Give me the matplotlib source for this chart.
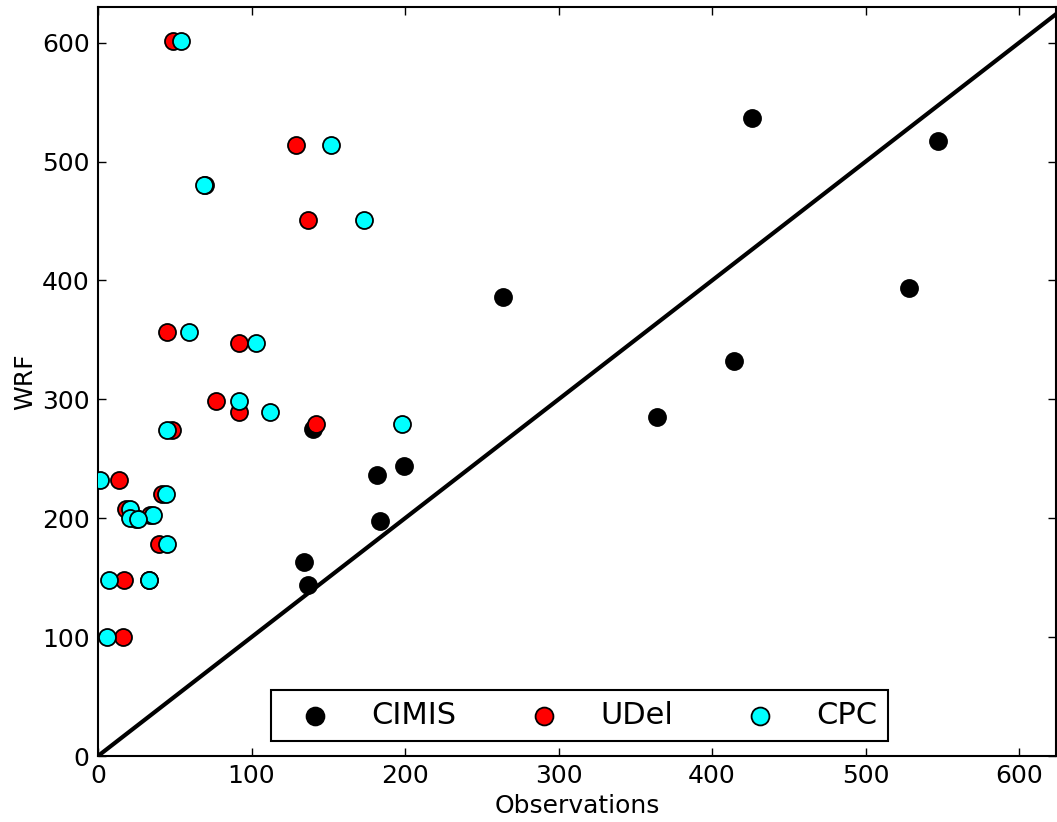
import matplotlib
matplotlib.use("Agg")
import matplotlib.pyplot as plt

# CIMIS observations vs WRF
cimis_obs = [426, 547, 264, 528, 414, 364, 140, 199, 182, 184, 134, 137]
cimis_wrf = [537, 517, 386, 394, 332, 285, 275, 244, 236, 198, 163, 144]

# WRF values at stations (shared by UDel and CPC)
station_wrf = [601, 514, 480, 451, 357, 347, 299, 289, 279, 274, 232, 220,
               208, 203, 200, 199, 178, 148, 148, 100]
udel_obs = [49, 129, 70, 137, 45, 92, 77, 92, 142, 48, 14, 42,
            18, 34, 25, 25, 40, 17, 33, 16]
cpc_obs = [54, 152, 69, 173, 59, 103, 92, 112, 198, 45, 1.5, 44,
           21, 36, 21, 26, 45, 7, 33, 6]

ticks = [0, 100, 200, 300, 400, 500, 600]
xmax, ymax = 624, 630

plt.rcParams['font.family'] = ['DejaVu Sans']
fig = plt.figure(figsize=(10.57, 8.22), dpi=100)
ax = fig.add_axes([98/1057, 66/822, 958/1057, 749/822])

ax.plot([0, 700], [0, 700], color='black', lw=3, zorder=1)
ms = 150
ax.scatter(cimis_obs, cimis_wrf, s=ms, c='black', edgecolors='black', linewidths=1.3, label='CIMIS', zorder=2)
ax.scatter(udel_obs, station_wrf, s=ms, c='red', edgecolors='black', linewidths=1.3, label='UDel', zorder=3)
ax.scatter(cpc_obs, station_wrf, s=ms, c='cyan', edgecolors='black', linewidths=1.3, label='CPC', zorder=4)

ax.set_xlim(0, xmax)
ax.set_ylim(0, ymax)
ax.set_xticks(ticks)
ax.set_yticks(ticks)
ax.tick_params(direction='in', length=6, width=1, top=True, right=True, labelsize=18, pad=6)
for sp in ax.spines.values():
    sp.set_linewidth(1.5)
ax.set_xlabel('Observations', fontsize=18, labelpad=4)
ax.set_ylabel('WRF', fontsize=18, labelpad=3.5)

leg = ax.legend(loc='lower center', bbox_to_anchor=(0.5026, 0), ncol=3, fontsize=22,
                scatterpoints=1, fancybox=False, framealpha=1, edgecolor='black',
                handlelength=2.2, handletextpad=0.75, columnspacing=1.75, borderpad=0.35,
                borderaxespad=0.5, markerscale=1.05)
leg.get_frame().set_linewidth(1.5)

fig.savefig('out.png', dpi=100)
